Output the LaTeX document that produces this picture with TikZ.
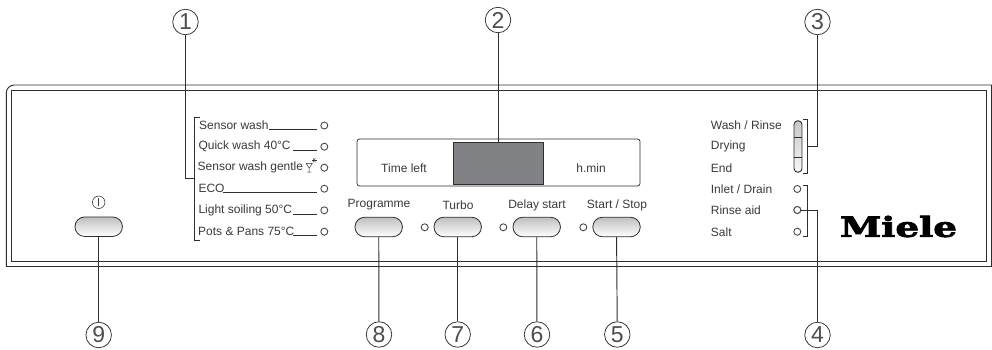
\documentclass[tikz,border=0pt]{standalone}
\usepackage{fontspec}
\usetikzlibrary{shapes.misc}
\setmainfont{Liberation Sans}
\newfontfamily\logofont[FakeBold=3,FakeStretch=1.18]{DejaVu Serif Bold}
\definecolor{ink}{HTML}{2E2E30}
\definecolor{txt}{HTML}{3A3A3C}
\definecolor{ledc}{HTML}{4A4A4C}
\definecolor{lcd}{HTML}{808285}
\tikzset{
 x=1pt,y=-1pt,
 lead/.style={draw=ink,line width=0.95pt},
 callout/.style={circle,draw=ink,line width=0.75pt,minimum size=25.5pt,inner sep=0pt,font=\fontsize{23}{23}\selectfont\color{ink!85}},
 panelline/.style={draw=ink,line width=0.9pt},
 lab/.style={font=\fontsize{12}{13}\selectfont,text=txt,inner sep=0pt,anchor=west},
 clab/.style={font=\fontsize{12}{13}\selectfont,text=txt,inner sep=0pt},
 led/.style={circle,draw=ledc,line width=0.9pt,fill=white,minimum size=7pt,inner sep=0pt},
 btn/.style={rounded rectangle,draw=ink,line width=0.8pt,minimum width=47.5pt,minimum height=19.5pt,inner sep=0pt,top color=black!25,bottom color=white},
 rule/.style={draw=ink,line width=0.85pt},
}
\begin{document}
\begin{tikzpicture}
\useasboundingbox (0,0) rectangle (992,350);
\fill[white] (0,0) rectangle (992,350);
% panel
\draw[panelline] (6.3,266.5) -- (6.3,93) arc[start angle=180,end angle=270,radius=8] -- (991.5,85) -- (991.5,266.5) -- cycle;
\draw[panelline] (11.7,261) rectangle (986,90.3);
% callouts
\node[callout] (c1) at (185.5,22) {1};
\node[callout] (c2) at (498,20) {2};
\node[callout] (c3) at (817.5,22) {3};
\node[callout] (c4) at (817.5,335) {4};
\node[callout] (c5) at (617.3,334.5) {5};
\node[callout] (c6) at (537,334.5) {6};
\node[callout] (c7) at (457.7,334.5) {7};
\node[callout] (c8) at (379,334.5) {8};
\node[callout] (c9) at (98.7,335) {9};
% display
\node[draw=ink,line width=0.75pt,rounded corners=2.5pt,fill=white,minimum width=283pt,minimum height=47pt,inner sep=0pt] (disp) at (498.5,162.5) {};
\node[draw=ink,line width=0.7pt,fill=lcd,minimum width=90pt,minimum height=42pt,inner sep=0pt] (dark) at (498,163) {};
\node[clab] (tl) at (404,168) {Time left};
\node[clab] (hm) at (591,168) {h.min};
\draw[lead] (c2) -- (dark);
% buttons
\node[btn] (b9) at (98.7,226.7) {};
\node[btn] (b8) at (378.7,227) {};
\node[btn] (b7) at (457.7,227) {};
\node[btn] (b6) at (536.7,227) {};
\node[btn] (b5) at (616.5,227) {};
\node[clab] (l8) at (379,205) {Programme};
\node[clab] (l7) at (458,205) {Turbo};
\node[clab] (l6) at (537,205) {Delay start};
\node[clab] (l5) at (617,205) {Start / Stop};
\node[led] (l7d) at (424.7,227.3) {};
\node[led] (l6d) at (503.3,227.3) {};
\node[led] (l5d) at (583.3,227.3) {};
\draw[lead] (b9) -- (c9);
\draw[lead] (b8) -- (c8);
\draw[lead] (b7) -- (c7);
\draw[lead] (b6) -- (c6);
\draw[lead] (b5) -- (c5);
% power symbol
\node[circle,draw=txt,line width=0.6pt,minimum size=12.5pt,inner sep=0pt] (pw) at (98.7,202.3) {};
\draw[txt,line width=0.7pt] (98.7,198.3) -- (98.7,206.3);
% left programme list
\node[lab] (ta) at (199,125.5) {Sensor wash};
\node[lab] (tb) at (198.3,146.7) {Quick wash 40°C};
\node[lab] (tc) at (197.5,167.7) {Sensor wash gentle};
\node[lab] (td) at (198.3,188.7) {ECO};
\node[lab] (te) at (198.3,210.3) {Light soiling 50°C};
\node[lab] (tf) at (198,231.7) {Pots \& Pans 75°C};
\node[led] (pa) at (324.3,125.5) {};
\node[led] (pb) at (324.3,146.7) {};
\node[led] (pc) at (324.3,167.7) {};
\node[led] (pd) at (324.3,188.7) {};
\node[led] (pe) at (324.3,210.3) {};
\node[led] (pf) at (324.3,231.7) {};
\draw[rule] (269,129.6) -- (317,129.6);
\draw[rule] (293,150.4) -- (317,150.4);
\draw[rule] (223,192.8) -- (317,192.8);
\draw[rule] (293,214.2) -- (317,214.2);
\draw[rule] (293,235.5) -- (317,235.5);
% glass
\draw[txt,line width=0.5pt] (306,163.3) -- (312.4,163.3) -- (309.2,168) -- cycle (309.2,168) -- (309.2,172) (307,172) -- (311.4,172);
\foreach \a in {0,60,...,300}{\draw[txt,line width=0.45pt] (314.2,160.3) -- ++(\a:2.4);}
% left bracket
\draw[lead] (200,117) -- (194,117) -- (194,240) -- (200,240);
\coordinate (lbm) at (194,178);
\draw[lead] (lbm) -- (185.5,178) -- (c1);
% right list
\node[lab] (ra) at (710.7,125) {Wash / Rinse};
\node[lab] (rb) at (710.7,146.5) {Drying};
\node[lab] (rc) at (710.7,168) {End};
\node[lab] (rd) at (710.7,189.5) {Inlet / Drain};
\node[lab] (re) at (710.7,210.3) {Rinse aid};
\node[lab] (rf) at (710.7,232) {Salt};
\node[led] (qd) at (797.3,189) {};
\node[led] (qe) at (797.3,210) {};
\node[led] (qf) at (797.3,231.7) {};
\node[draw=ink,line width=0.9pt,rounded corners=3.8pt,minimum width=8pt,minimum height=51.5pt,inner sep=0pt,top color=black!22,bottom color=black!3] (pill) at (798,146.5) {};
\draw[ink,line width=0.6pt] (794,137.7) -- (802,137.7) (794,157) -- (802,157);
\coordinate (r3) at (807,146);
\draw[lead] (803,119.3) -- (807,119.3) -- (807,173) -- (803,173);
\draw[lead] (803,185) -- (807,185) -- (807,236.7) -- (803,236.7);
\draw[lead] (r3) -- (817.5,146) -- (c3);
\draw[lead] (qe) -- (817.5,210) -- (c4);
\node[led] at (qe) {};
% logo
\node[inner sep=0pt,text=black] (logo) at (898.5,226.5) {\resizebox{117pt}{21pt}{\logofont Miele}};
\end{tikzpicture}
\end{document}
